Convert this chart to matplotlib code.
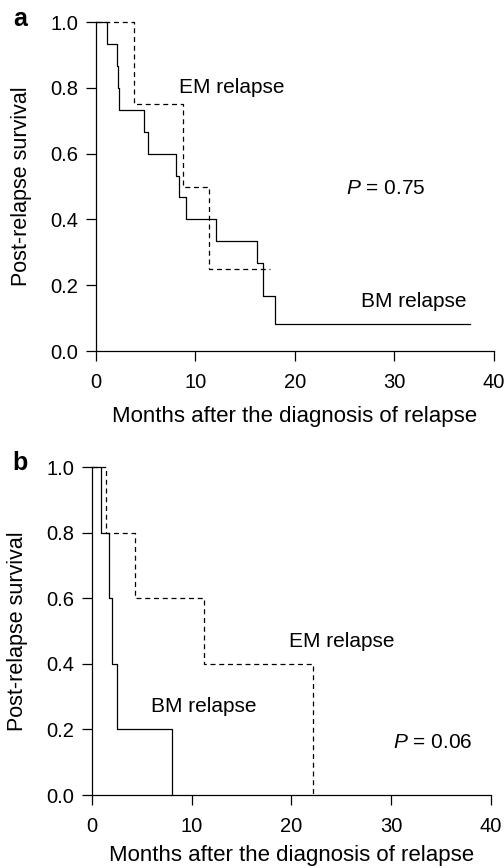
import matplotlib
matplotlib.use("Agg")
import matplotlib.pyplot as plt

plt.rcParams["font.family"] = ["Liberation Sans", "DejaVu Sans"]
plt.rcParams["mathtext.fontset"] = "custom"
plt.rcParams["mathtext.it"] = "Liberation Sans:italic"
plt.rcParams["mathtext.rm"] = "Liberation Sans"

# panel a: Kaplan-Meier steps (months, survival)
a_bm_t = [0, 1.1, 2.14, 2.24, 2.34, 4.89, 5.29, 8.03, 8.33, 9.04, 12.1, 16.2, 16.8, 18.04, 37.6]
a_bm_s = [1.0, 0.933, 0.867, 0.8, 0.733, 0.667, 0.6, 0.533, 0.467, 0.4, 0.333, 0.267, 0.167, 0.083, 0.083]
a_em_t = [0, 3.82, 8.8, 11.4, 17.5]
a_em_s = [1.0, 0.75, 0.5, 0.25, 0.25]

# panel b
b_bm_t = [0, 0.93, 1.77, 2.0, 2.5, 8.08]
b_bm_s = [1.0, 0.8, 0.6, 0.4, 0.2, 0.0]
b_em_t = [0, 1.4, 4.37, 11.26, 22.15]
b_em_s = [1.0, 0.8, 0.6, 0.4, 0.0]

xticks = [0, 10, 20, 30, 40]
yticks = [0.0, 0.2, 0.4, 0.6, 0.8, 1.0]

fig = plt.figure(figsize=(5.04, 8.68), dpi=100)
fs_tick = 14.5
fs_lab = 16
fs_txt = 15


def style(ax, xpad):
    ax.set_xlim(0, 40)
    ax.set_ylim(0, 1.0)
    ax.spines["top"].set_visible(False)
    ax.spines["right"].set_visible(False)
    ax.spines["left"].set_linewidth(0.9)
    ax.spines["bottom"].set_linewidth(0.9)
    ax.set_xticks(xticks)
    ax.set_yticks(yticks)
    ax.set_yticklabels(["%.1f" % v for v in yticks])
    ax.tick_params(direction="out", length=7, width=0.9, labelsize=fs_tick)
    ax.tick_params(axis="x", pad=9)
    ax.tick_params(axis="y", pad=5.5)
    ax.set_xlabel("Months after the diagnosis of relapse", fontsize=fs_lab, labelpad=xpad)
    ax.set_ylabel("Post-relapse survival", fontsize=15.5, labelpad=13)


# ---- panel a
ax1 = fig.add_axes([0.19, 0.5956, 0.79, 0.379])
ax1.step(a_bm_t, a_bm_s, where="post", color="black", lw=0.9, clip_on=False)
ax1.step(a_em_t, a_em_s, where="post", color="black", lw=0.9,
         linestyle=(0, (4, 3)), clip_on=False)
style(ax1, 10)
ax1.text(8.4, 0.80, "EM relapse", fontsize=fs_txt, va="center")
ax1.text(25.1, 0.495, "$P$ = 0.75", fontsize=fs_txt, va="center")
ax1.text(26.6, 0.15, "BM relapse", fontsize=fs_txt, va="center")
fig.text(13 / 504, 1 - 26 / 868, "a", fontsize=18, fontweight="bold", va="baseline")

# ---- panel b
ax2 = fig.add_axes([0.182, 0.0841, 0.792, 0.3775])
ax2.step(b_bm_t, b_bm_s, where="post", color="black", lw=0.9, clip_on=False)
ax2.step(b_em_t, b_em_s, where="post", color="black", lw=0.9,
         linestyle=(0, (4, 3)), clip_on=False)
style(ax2, 6)
ax2.text(19.8, 0.469, "EM relapse", fontsize=fs_txt, va="center")
ax2.text(5.9, 0.27, "BM relapse", fontsize=fs_txt, va="center")
ax2.text(30.2, 0.16, "$P$ = 0.06", fontsize=fs_txt, va="center")
fig.text(12 / 504, 1 - 470 / 868, "b", fontsize=18, fontweight="bold", va="baseline")

fig.savefig("out.png", dpi=100)
